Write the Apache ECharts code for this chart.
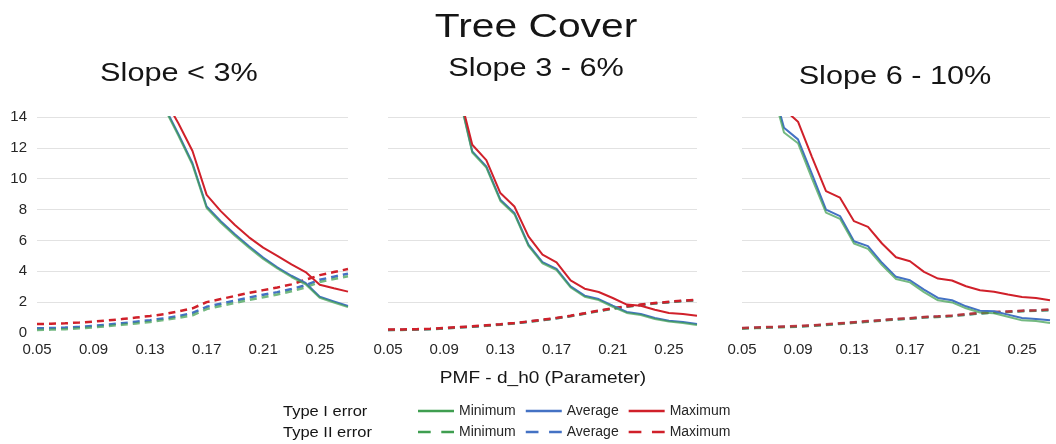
<!DOCTYPE html>
<html>
<head>
<meta charset="utf-8">
<script src="https://cdn.jsdelivr.net/npm/echarts@6/dist/echarts.min.js"></script>
<style>
  html, body { margin: 0; padding: 0; background: #ffffff; }
  #chart { width: 1056px; height: 444px; }
</style>
</head>
<body>
<div id="chart"></div>
<script>
// ---------- DATA ----------
const categories = ['0.05','0.06','0.07','0.08','0.09','0.10','0.11','0.12','0.13','0.14','0.15','0.16',
                    '0.17','0.18','0.19','0.20','0.21','0.22','0.23','0.24','0.25','0.26','0.27'];
const yTicks = [0, 2, 4, 6, 8, 10, 12, 14];
const panelTitles = ['Slope < 3%', 'Slope 3 - 6%', 'Slope 6 - 10%'];
const mainTitle = 'Tree Cover';
const xAxisName = 'PMF - d_h0 (Parameter)';
const rowLabels = ['Type I error', 'Type II error'];
const statNames = ['Minimum', 'Average', 'Maximum'];

// Slope < 3%
const p1TypeIMin  = [null,null,null,null,null,null,null,null,null,14.6,12.8,10.9,8.1,7.15,6.3,5.52,4.8,4.18,3.63,3.16,2.28,1.98,1.68];
const p1TypeIAvg  = [null,null,null,null,null,null,null,null,null,14.7,12.9,11.0,8.2,7.25,6.4,5.62,4.89,4.26,3.71,3.24,2.35,2.05,1.75];
const p1TypeIMax  = [null,null,null,null,null,null,null,null,null,15.2,13.6,11.8,8.95,7.9,7.0,6.2,5.53,5.0,4.45,3.95,3.13,2.9,2.68];
const p1TypeIIMin = [0.2,0.22,0.25,0.3,0.36,0.45,0.53,0.62,0.72,0.84,0.98,1.15,1.55,1.75,1.95,2.15,2.32,2.5,2.7,2.95,3.3,3.5,3.68];
const p1TypeIIAvg = [0.3,0.32,0.35,0.4,0.46,0.55,0.63,0.73,0.83,0.95,1.1,1.3,1.7,1.9,2.1,2.3,2.48,2.65,2.85,3.1,3.45,3.65,3.85];
const p1TypeIIMax = [0.58,0.6,0.63,0.68,0.74,0.82,0.9,1.0,1.1,1.22,1.4,1.6,2.0,2.2,2.4,2.6,2.78,2.95,3.15,3.45,3.75,3.95,4.15];

// Slope 3 - 6%
const p2TypeIMin  = [null,null,null,null,null,15.6,11.7,10.72,8.56,7.7,5.65,4.52,4.08,2.95,2.35,2.13,1.7,1.3,1.17,0.91,0.74,0.65,0.52];
const p2TypeIAvg  = [null,null,null,null,null,15.7,11.77,10.8,8.64,7.78,5.72,4.6,4.15,3.02,2.42,2.2,1.77,1.36,1.23,0.97,0.8,0.71,0.58];
const p2TypeIMax  = [null,null,null,null,null,15.8,12.2,11.2,9.07,8.2,6.26,5.08,4.58,3.41,2.87,2.66,2.27,1.84,1.77,1.51,1.3,1.23,1.12];
const p2TypeIIMin = [0.19,0.2,0.22,0.25,0.29,0.35,0.4,0.47,0.54,0.62,0.72,0.83,0.95,1.09,1.25,1.42,1.57,1.7,1.81,1.91,1.99,2.07,2.13];
const p2TypeIIAvg = [0.2,0.21,0.23,0.26,0.3,0.36,0.41,0.48,0.55,0.63,0.73,0.84,0.96,1.1,1.26,1.43,1.58,1.71,1.82,1.92,2.0,2.08,2.14];
const p2TypeIIMax = [0.22,0.23,0.25,0.28,0.32,0.38,0.43,0.5,0.57,0.65,0.75,0.86,0.98,1.12,1.28,1.45,1.6,1.73,1.84,1.94,2.02,2.1,2.16];

// Slope 6 - 10%
const p3TypeIMin  = [null,null,16.3,13.0,12.3,10.0,7.8,7.4,5.8,5.45,4.4,3.5,3.28,2.65,2.12,1.98,1.6,1.33,1.28,1.05,0.82,0.78,0.65];
const p3TypeIAvg  = [null,null,16.6,13.3,12.55,10.3,8.0,7.58,5.95,5.63,4.55,3.64,3.42,2.81,2.27,2.12,1.73,1.45,1.41,1.19,0.97,0.91,0.82];
const p3TypeIMax  = [null,null,null,14.5,13.7,11.4,9.2,8.77,7.25,6.88,5.8,4.91,4.65,3.96,3.53,3.4,3.03,2.77,2.68,2.49,2.34,2.27,2.12];
const p3TypeIIMin = [0.28,0.32,0.35,0.38,0.41,0.46,0.52,0.59,0.66,0.73,0.8,0.87,0.92,1.0,1.04,1.09,1.18,1.26,1.32,1.36,1.41,1.44,1.48];
const p3TypeIIAvg = [0.3,0.34,0.37,0.4,0.43,0.48,0.54,0.61,0.68,0.75,0.82,0.89,0.94,1.02,1.06,1.11,1.2,1.28,1.34,1.38,1.43,1.46,1.5];
const p3TypeIIMax = [0.32,0.36,0.39,0.42,0.45,0.5,0.56,0.63,0.7,0.77,0.84,0.91,0.96,1.04,1.08,1.13,1.22,1.3,1.36,1.4,1.45,1.48,1.52];

// ---------- CHART ----------
const COLORS = { Minimum: '#3f9e50', Average: '#4472c4', Maximum: '#d0202a' };
const SANS = "'Liberation Sans', Arial, sans-serif";

const panels = [
  { I: [p1TypeIMin, p1TypeIAvg, p1TypeIMax], II: [p1TypeIIMin, p1TypeIIAvg, p1TypeIIMax] },
  { I: [p2TypeIMin, p2TypeIAvg, p2TypeIMax], II: [p2TypeIIMin, p2TypeIIAvg, p2TypeIIMax] },
  { I: [p3TypeIMin, p3TypeIAvg, p3TypeIMax], II: [p3TypeIIMin, p3TypeIIAvg, p3TypeIIMax] }
];

const gridBoxes = [
  { left: 37,  top: 117, width: 311, height: 216 },
  { left: 388, top: 117, width: 309, height: 216 },
  { left: 742, top: 117, width: 308, height: 216 }
];

const grid = gridBoxes.map(b => Object.assign({ containLabel: false }, b));

const xAxis = gridBoxes.map((b, i) => ({
  type: 'category', gridIndex: i, data: categories, boundaryGap: false,
  axisLine: { show: false }, axisTick: { show: false }, splitLine: { show: false },
  axisLabel: { interval: 3, fontSize: 15, fontFamily: SANS, color: '#262626', margin: 9 }
}));

const yAxis = gridBoxes.map((b, i) => ({
  type: 'value', gridIndex: i, min: yTicks[0], max: yTicks[yTicks.length - 1],
  interval: yTicks[1] - yTicks[0],
  axisLine: { show: false }, axisTick: { show: false },
  axisLabel: { show: i === 0, fontSize: 15, fontFamily: SANS, color: '#262626', margin: 10 },
  splitLine: { show: true, showMinLine: false, lineStyle: { color: '#e2e2e2', width: 1 } }
}));

const series = [];
const drawOrder = [1, 0, 2]; // Average, Minimum, Maximum
panels.forEach((p, gi) => {
  ['II', 'I'].forEach(type => {
    drawOrder.forEach(k => {
      const stat = statNames[k];
      const dashed = type === 'II';
      let op = (stat === 'Minimum') ? 0.72 : 1;
      if (gi === 2 && dashed && stat === 'Maximum') op = 0.8;
      series.push({
        type: 'line',
        name: 'Type ' + type + ' ' + stat,
        xAxisIndex: gi, yAxisIndex: gi,
        data: p[type][k],
        symbol: 'none', showSymbol: false, smooth: false, clip: true, connectNulls: false,
        color: COLORS[stat],
        lineStyle: {
          color: COLORS[stat],
          width: dashed ? 2.5 : 2,
          type: dashed ? [7, 5] : 'solid',
          opacity: op
        },
        emphasis: { disabled: true },
        z: dashed ? 2 : 3
      });
    });
  });
});

const SOLID_ICON = 'path://M0,0H36V2.5H0Z';
const DASH_ICON = 'path://M0,0H12V2.5H0Z M22,0H34V2.5H22Z';

function legendRow(type, top, icon) {
  return {
    data: statNames.map(s => ({ name: 'Type ' + type + ' ' + s, icon: icon })),
    left: 413, top: top, itemWidth: 36, itemHeight: 14, itemGap: 10,
    selectedMode: false, orient: 'horizontal',
    formatter: n => n.split(' ').pop(),
    itemStyle: { opacity: 1 },
    textStyle: { fontSize: 14, fontFamily: SANS, color: '#262626' }
  };
}
const legend = [ legendRow('I', 399, SOLID_ICON), legendRow('II', 420, DASH_ICON) ];

function txt(text, x, y, size, sx, align) {
  return {
    type: 'text', x: x, y: y, scaleX: sx, silent: true,
    style: {
      text: text, x: 0, y: 0, fill: '#151515',
      fontSize: size, fontFamily: SANS,
      textAlign: align, align: align,
      textVerticalAlign: 'middle', verticalAlign: 'middle'
    }
  };
}

const graphic = [
  txt(mainTitle, 536, 28, 34, 1.2, 'center'),
  txt(panelTitles[0], 179, 74, 26, 1.18, 'center'),
  txt(panelTitles[1], 536, 69, 26, 1.18, 'center'),
  txt(panelTitles[2], 895, 77, 26, 1.18, 'center'),
  txt(xAxisName, 543, 378, 17, 1.12, 'center'),
  txt(rowLabels[0], 283, 412, 15, 1.1, 'left'),
  txt(rowLabels[1], 283, 433, 15, 1.1, 'left')
];

const chart = echarts.init(document.getElementById('chart'), null, { renderer: 'canvas' });
chart.setOption({
  backgroundColor: '#ffffff',
  animation: false,
  tooltip: { show: false },
  grid: grid, xAxis: xAxis, yAxis: yAxis,
  legend: legend,
  series: series,
  graphic: graphic
});
</script>
</body>
</html>
